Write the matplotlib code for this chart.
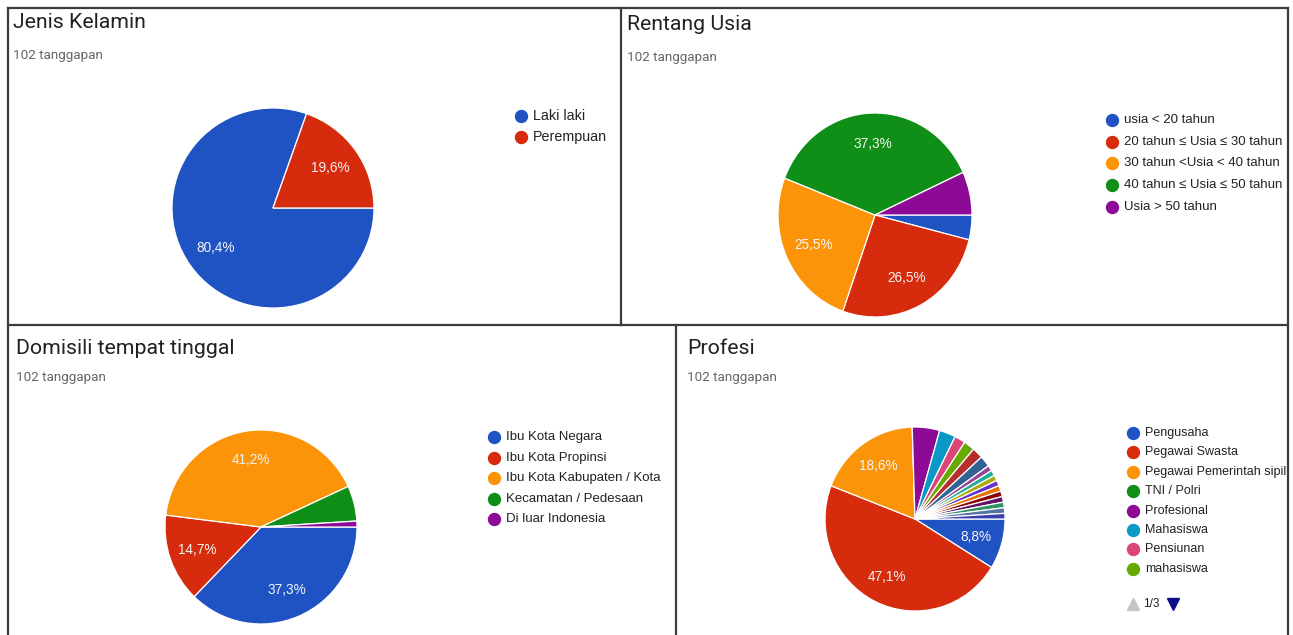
import matplotlib.pyplot as plt
from matplotlib.lines import Line2D

W, H = 1293, 635

response_count = 102

jk_labels = ["Laki laki", "Perempuan"]
jk_values = [82, 20]

usia_labels = [
    "usia < 20 tahun",
    "20 tahun ≤ Usia ≤ 30 tahun",
    "30 tahun <Usia < 40 tahun",
    "40 tahun ≤ Usia ≤ 50 tahun",
    "Usia > 50 tahun",
]
usia_values = [4, 27, 26, 38, 7]

domisili_labels = [
    "Ibu Kota Negara",
    "Ibu Kota Propinsi",
    "Ibu Kota Kabupaten / Kota",
    "Kecamatan / Pedesaan",
    "Di luar Indonesia",
]
domisili_values = [38, 15, 42, 6, 1]

# only the first legend page (1/3) is visible in the source
profesi_labels = [
    "Pengusaha",
    "Pegawai Swasta",
    "Pegawai Pemerintah sipil",
    "TNI / Polri",
    "Profesional",
    "Mahasiswa",
    "Pensiunan",
    "mahasiswa",
]
profesi_values = [9, 48, 19, 0, 5, 3, 2, 2, 2, 2, 1, 1, 1, 1, 1, 1, 1, 1, 1, 1]

palette = [
    "#1f52c2", "#d62b0c", "#fb9409", "#0f8f17", "#8c0a95", "#0a98c6",
    "#dd4477", "#66aa00", "#b82e2e", "#316395", "#994499", "#22aa99",
    "#aaaa11", "#6633cc", "#e67300", "#8b0707", "#651067", "#329262",
    "#5574a6", "#3b3eac",
]

SANS = ["Liberation Sans", "DejaVu Sans"]
plt.rcParams["font.family"] = SANS


def fx(x):
    return x / W


def fy(y):
    return 1 - y / H


def pct_label(p):
    return f"{p:.1f}%".replace(".", ",") if p >= 8 else ""


fig = plt.figure(figsize=(W / 100, H / 100), dpi=100)
fig.patch.set_facecolor("white")


def draw_pie(values, cx, cy, rx, ry):
    ax = fig.add_axes([fx(cx - rx), fy(cy + ry), 2 * rx / W, 2 * ry / H])
    ax.pie(
        values,
        colors=palette[: len(values)],
        startangle=0,
        counterclock=False,
        radius=1,
        autopct=pct_label,
        pctdistance=0.7,
        wedgeprops=dict(edgecolor="white", linewidth=0.9),
        textprops=dict(color="#f4f4f4", fontsize=9.8),
    )
    ax.set_aspect("auto")
    ax.set_xlim(-1, 1)
    ax.set_ylim(-1, 1)
    ax.axis("off")
    return ax


def draw_legend(labels, x, y0, step, fontsize=9.5):
    for i, label in enumerate(labels):
        y = y0 + i * step
        fig.add_artist(Line2D([fx(x)], [fy(y)], marker="o", markersize=8.6,
                              color=palette[i], transform=fig.transFigure))
        fig.text(fx(x + 12), fy(y), label, fontsize=fontsize, color="#222222",
                 va="center", ha="left")


def draw_header(title, x, y_title, y_sub):
    fig.text(fx(x), fy(y_title), title, fontsize=15.3, color="#202124",
             va="center", ha="left", family=["Roboto", "DejaVu Sans"])
    fig.text(fx(x), fy(y_sub), f"{response_count} tanggapan", fontsize=9.7,
             color="#666666", va="center", ha="left", family=["Roboto", "DejaVu Sans"])


# panel borders
segments = [
    ((8, 8), (1288, 8)),
    ((8, 8), (8, 635)),
    ((1288, 8), (1288, 635)),
    ((8, 325), (1288, 325)),
    ((621, 8), (621, 325)),
    ((676, 325), (676, 635)),
]
for (x0, y0), (x1, y1) in segments:
    fig.add_artist(Line2D([fx(x0), fx(x1)], [fy(y0), fy(y1)], color="#3c3c3c",
                          linewidth=1.6, transform=fig.transFigure))

# Jenis Kelamin
draw_header("Jenis Kelamin", 13, 22, 55)
draw_pie(jk_values, 273, 208, 101, 100)
draw_legend(jk_labels, 521, 116, 21, fontsize=10.3)

# Rentang Usia
draw_header("Rentang Usia", 627, 24, 57)
draw_pie(usia_values, 875, 215, 97, 102)
draw_legend(usia_labels, 1112, 120, 21.7)

# Domisili tempat tinggal
draw_header("Domisili tempat tinggal", 16, 348, 378)
draw_pie(domisili_values, 261, 527, 96, 97)
draw_legend(domisili_labels, 494, 437, 20.5)

# Profesi
draw_header("Profesi", 687, 348, 378)
draw_pie(profesi_values, 915, 519, 90, 92)
draw_legend(profesi_labels, 1133, 433, 19.4, fontsize=9)

# legend pager
fig.add_artist(Line2D([fx(1133)], [fy(604)], marker="^", markersize=8,
                      color="#c4c4c4", transform=fig.transFigure))
fig.text(fx(1143), fy(604), "1/3", fontsize=8.5, color="#222222", va="center")
fig.add_artist(Line2D([fx(1173)], [fy(604)], marker="v", markersize=8,
                      color="#0d0d8a", transform=fig.transFigure))

fig.savefig("out.png", dpi=100, facecolor="white")
